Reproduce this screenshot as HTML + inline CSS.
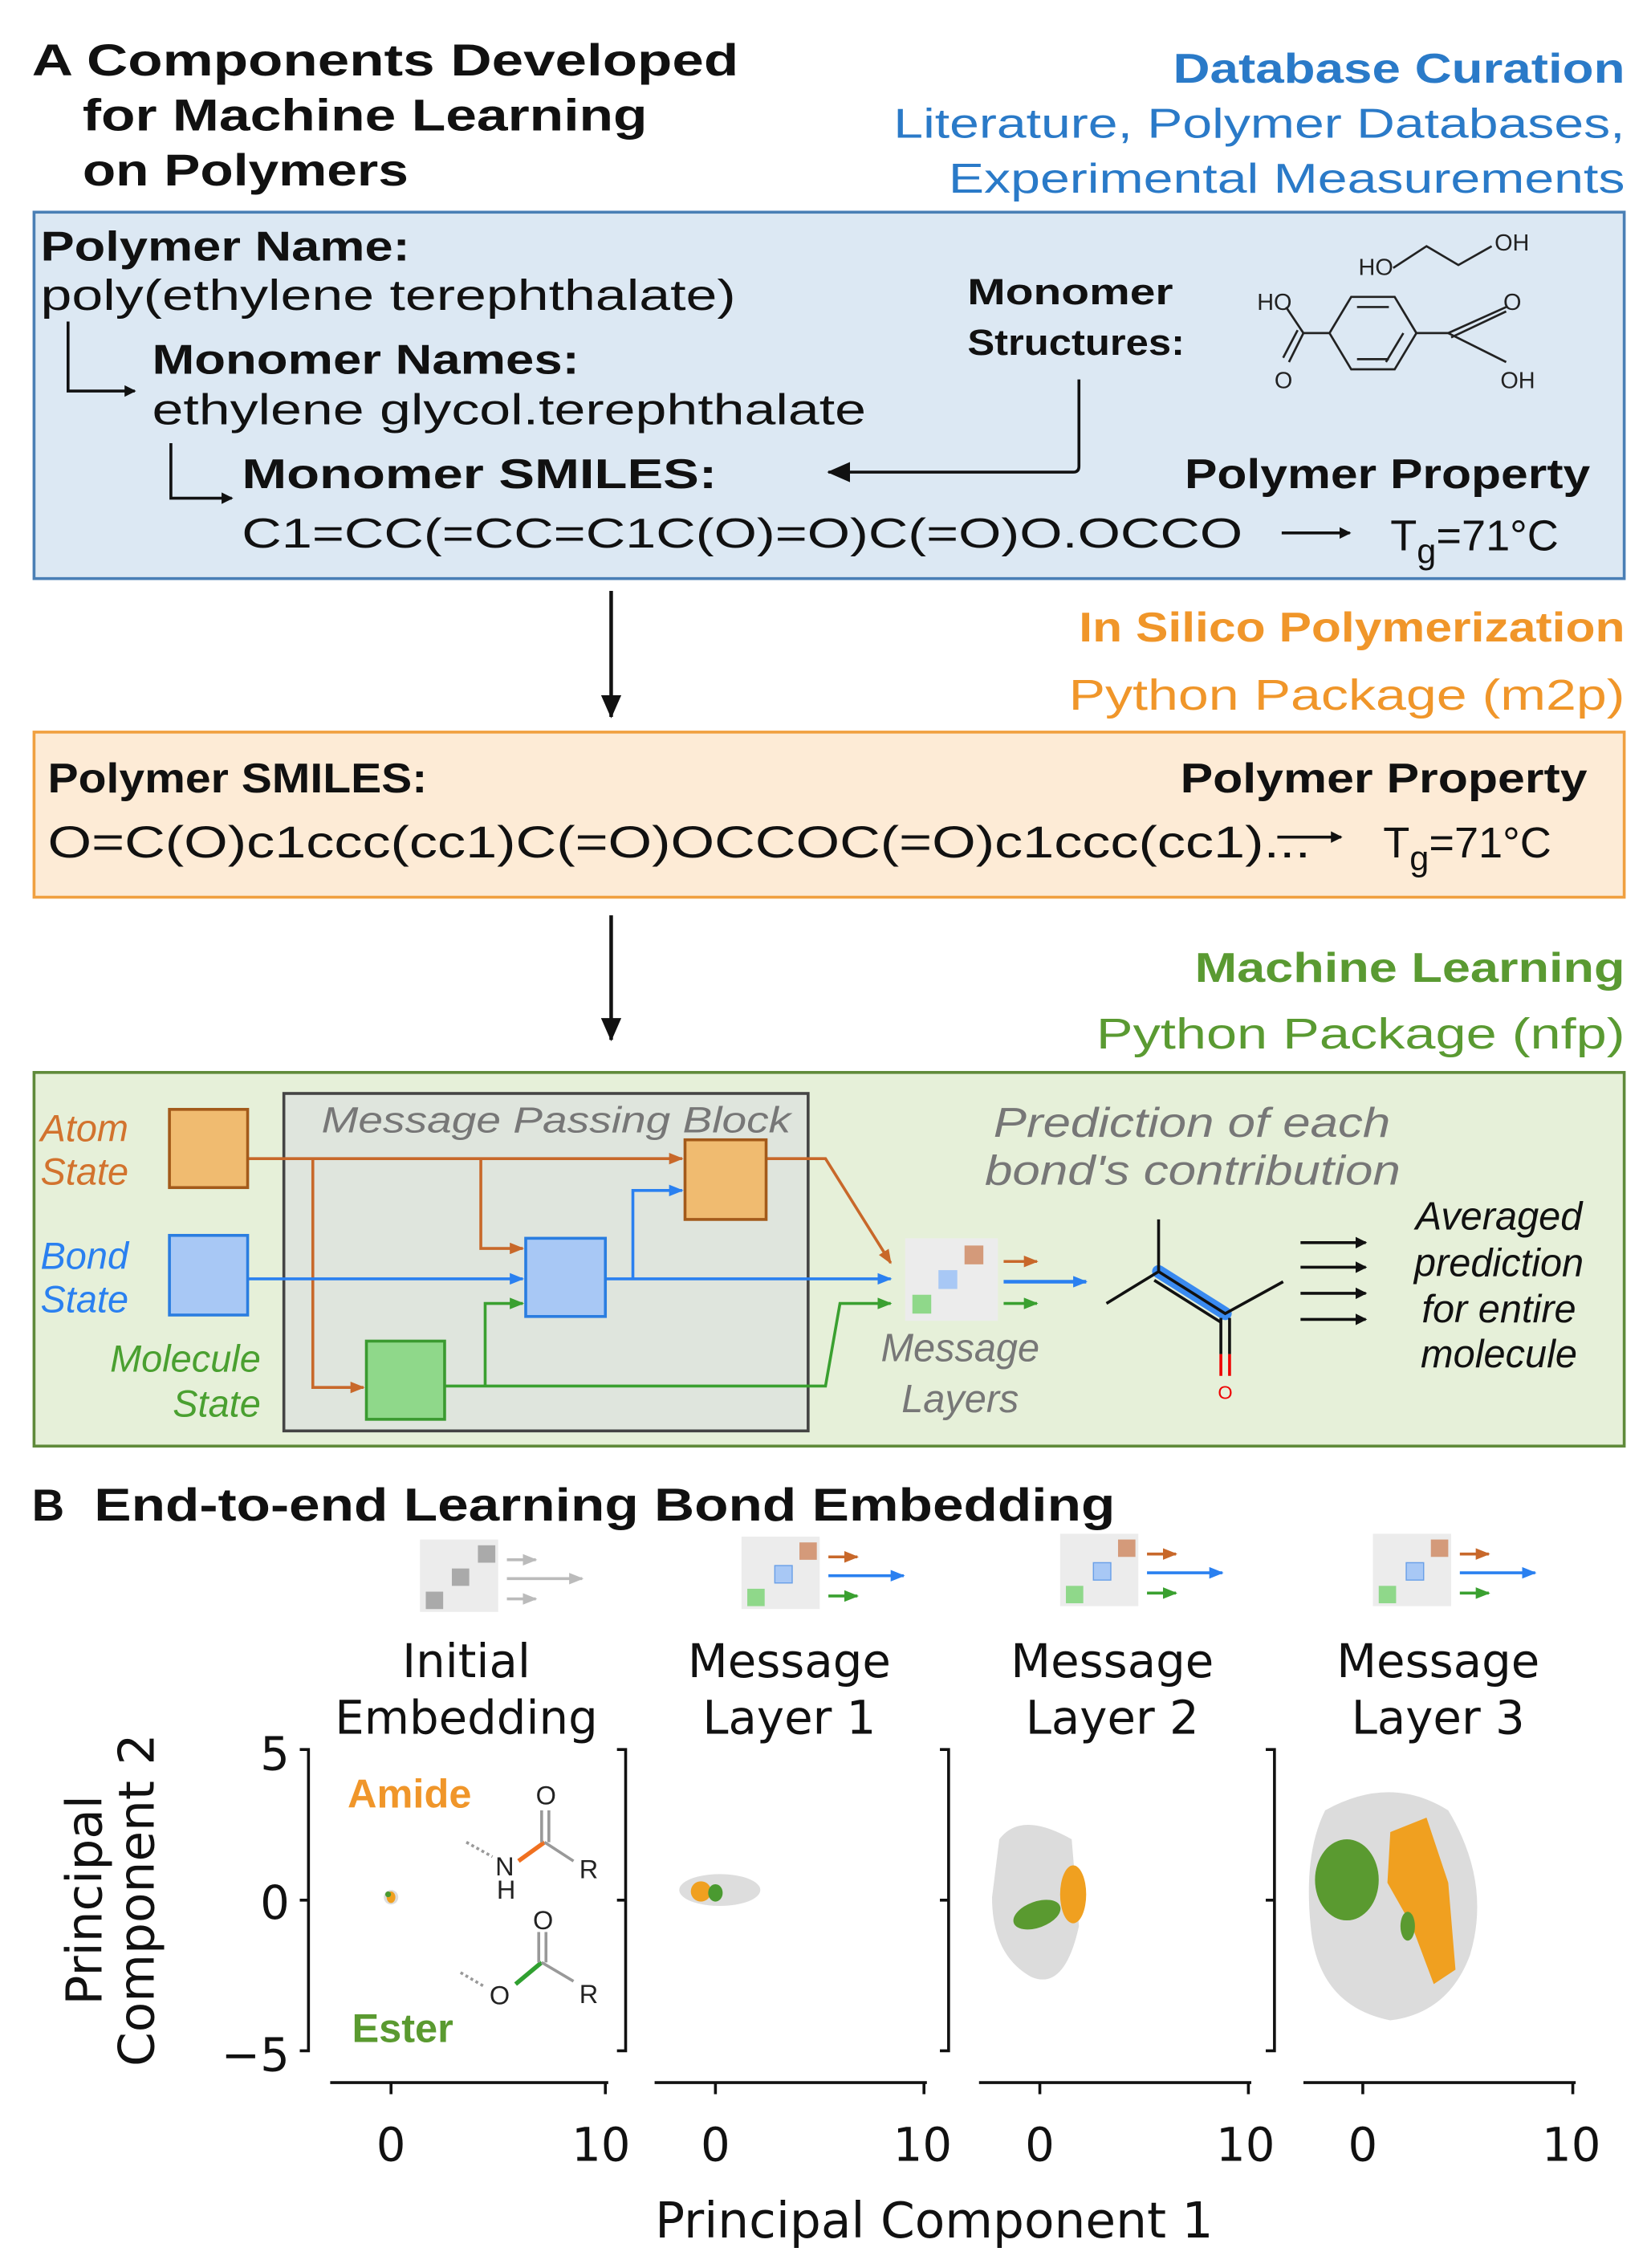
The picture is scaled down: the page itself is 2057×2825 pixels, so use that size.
<!DOCTYPE html>
<html><head><meta charset="utf-8"><style>
html,body{margin:0;padding:0;background:#fff;}
svg{display:block;}
text{font-family:"Liberation Sans",sans-serif;}
.b{font-weight:bold;}
.dv{font-family:"DejaVu Sans","Liberation Sans",sans-serif;}
</style></head><body>
<svg width="2057" height="2825" viewBox="0 0 1140 1566" preserveAspectRatio="none" xmlns="http://www.w3.org/2000/svg">
<defs>
<marker id="ak" markerWidth="8" markerHeight="8" refX="7" refY="4" orient="auto" markerUnits="userSpaceOnUse"><path d="M0,0 L8,4 L0,8 Z" fill="#111"/></marker>
<marker id="akL" markerWidth="16" markerHeight="14" refX="15" refY="7" orient="auto" markerUnits="userSpaceOnUse"><path d="M0,0 L16,7 L0,14 Z" fill="#111"/></marker>
<marker id="ao" markerWidth="10" markerHeight="8" refX="9" refY="4" orient="auto" markerUnits="userSpaceOnUse"><path d="M0,0 L10,4 L0,8 Z" fill="#c8682a"/></marker>
<marker id="ab" markerWidth="10" markerHeight="8" refX="9" refY="4" orient="auto" markerUnits="userSpaceOnUse"><path d="M0,0 L10,4 L0,8 Z" fill="#2a80f0"/></marker>
<marker id="ag" markerWidth="10" markerHeight="8" refX="9" refY="4" orient="auto" markerUnits="userSpaceOnUse"><path d="M0,0 L10,4 L0,8 Z" fill="#3aa030"/></marker>
<marker id="ay" markerWidth="10" markerHeight="8" refX="9" refY="4" orient="auto" markerUnits="userSpaceOnUse"><path d="M0,0 L10,4 L0,8 Z" fill="#bbb"/></marker>
<g id="icon">
<rect x="0" y="0" width="54" height="50" fill="#ececec"/>
<rect x="40" y="4" width="12" height="12" fill="#d49a7a"/>
<rect x="23" y="20" width="12" height="12" fill="#a8c8f5" stroke="#6aa0e8" stroke-width="0.8"/>
<rect x="4" y="36" width="12" height="12" fill="#8fd88a"/>
<line x1="60" y1="14" x2="80" y2="14" stroke="#c8682a" stroke-width="2" marker-end="url(#ao)"/>
<line x1="60" y1="27" x2="112" y2="27" stroke="#2a80f0" stroke-width="2" marker-end="url(#ab)"/>
<line x1="60" y1="41" x2="80" y2="41" stroke="#3aa030" stroke-width="2" marker-end="url(#ag)"/>
</g>
</defs>

<!-- Header -->
<text x="22" y="52" class="b" font-size="31" fill="#111" textLength="488" lengthAdjust="spacingAndGlyphs">A Components Developed</text>
<text x="57" y="90" class="b" font-size="31" fill="#111" textLength="390" lengthAdjust="spacingAndGlyphs">for Machine Learning</text>
<text x="57" y="128" class="b" font-size="31" fill="#111" textLength="225" lengthAdjust="spacingAndGlyphs">on Polymers</text>
<text x="810" y="57" class="b" font-size="29" fill="#2a7ac8" textLength="312" lengthAdjust="spacingAndGlyphs">Database Curation</text>
<text x="617" y="95" font-size="29" fill="#2a7ac8" textLength="505" lengthAdjust="spacingAndGlyphs">Literature, Polymer Databases,</text>
<text x="655" y="133" font-size="29" fill="#2a7ac8" textLength="467" lengthAdjust="spacingAndGlyphs">Experimental Measurements</text>

<!-- Blue box -->
<rect x="23.5" y="146.5" width="1098" height="253" fill="#dce8f3" stroke="#4a7fb5" stroke-width="2"/>
<text x="28" y="180" class="b" font-size="29" fill="#111" textLength="255" lengthAdjust="spacingAndGlyphs">Polymer Name:</text>
<text x="28" y="214" font-size="30" fill="#111" textLength="480" lengthAdjust="spacingAndGlyphs">poly(ethylene terephthalate)</text>
<path d="M47,222 V270 H93" fill="none" stroke="#111" stroke-width="2" marker-end="url(#ak)"/>
<text x="105" y="258" class="b" font-size="29" fill="#111" textLength="295" lengthAdjust="spacingAndGlyphs">Monomer Names:</text>
<text x="105" y="293" font-size="30" fill="#111" textLength="493" lengthAdjust="spacingAndGlyphs">ethylene glycol.terephthalate</text>
<path d="M118,306 V344 H160" fill="none" stroke="#111" stroke-width="2" marker-end="url(#ak)"/>
<text x="167" y="337" class="b" font-size="29" fill="#111" textLength="328" lengthAdjust="spacingAndGlyphs">Monomer SMILES:</text>
<text x="167" y="378" font-size="29" fill="#111" textLength="691" lengthAdjust="spacingAndGlyphs">C1=CC(=CC=C1C(O)=O)C(=O)O.OCCO</text>
<text x="668" y="210" class="b" font-size="25" fill="#111" textLength="142" lengthAdjust="spacingAndGlyphs">Monomer</text>
<text x="668" y="245" class="b" font-size="25" fill="#111" textLength="150" lengthAdjust="spacingAndGlyphs">Structures:</text>
<path d="M745,262 V322 Q745,326 741,326 H572" fill="none" stroke="#111" stroke-width="2" marker-end="url(#akL)"/>
<!-- molecules -->
<g stroke="#222" stroke-width="1.5" fill="none">
<path d="M962,185 L985,170 L1007,183 L1030,170"/>
<polygon points="918,230 933,205 963,205 978,230 963,255 933,255"/>
<line x1="937" y1="212" x2="959" y2="212"/><line x1="937" y1="248" x2="959" y2="248"/>
<line x1="969" y1="230" x2="957" y2="250"/>
<path d="M918,230 L900,230 L888,212"/><path d="M900,230 L890,250"/><path d="M896,228 L886,247"/>
<path d="M978,230 L1000,230 L1040,212"/><path d="M1000,230 L1040,250"/><path d="M1002,233 L1040,215"/>
</g>
<text x="938" y="190" font-size="16" fill="#222">HO</text>
<text x="1032" y="173" font-size="16" fill="#222">OH</text>
<text x="868" y="214" font-size="16" fill="#222">HO</text>
<text x="880" y="268" font-size="16" fill="#222">O</text>
<text x="1038" y="214" font-size="16" fill="#222">O</text>
<text x="1036" y="268" font-size="16" fill="#222">OH</text>
<text x="818" y="337" class="b" font-size="29" fill="#111" textLength="280" lengthAdjust="spacingAndGlyphs">Polymer Property</text>
<line x1="885" y1="368" x2="932" y2="368" stroke="#111" stroke-width="2" marker-end="url(#ak)"/>
<text x="960" y="380" font-size="30" fill="#111">T<tspan font-size="24" dy="9">g</tspan><tspan dy="-9">=71°C</tspan></text>

<!-- arrow 1 -->
<line x1="422" y1="408" x2="422" y2="495" stroke="#111" stroke-width="2.5" marker-end="url(#akL)"/>
<text x="745" y="443" class="b" font-size="29" fill="#f0962a" textLength="377" lengthAdjust="spacingAndGlyphs">In Silico Polymerization</text>
<text x="738" y="490" font-size="30" fill="#f0962a" textLength="384" lengthAdjust="spacingAndGlyphs">Python Package (m2p)</text>

<!-- Orange box -->
<rect x="23.5" y="505.5" width="1098" height="114" fill="#fdebd6" stroke="#f0a040" stroke-width="2"/>
<text x="33" y="547" class="b" font-size="29" fill="#111" textLength="262" lengthAdjust="spacingAndGlyphs">Polymer SMILES:</text>
<text x="815" y="547" class="b" font-size="29" fill="#111" textLength="281" lengthAdjust="spacingAndGlyphs">Polymer Property</text>
<text x="33" y="592" font-size="31" fill="#111" textLength="872" lengthAdjust="spacingAndGlyphs">O=C(O)c1ccc(cc1)C(=O)OCCOC(=O)c1ccc(cc1)...</text>
<line x1="882" y1="578" x2="926" y2="578" stroke="#111" stroke-width="2" marker-end="url(#ak)"/>
<text x="955" y="592" font-size="30" fill="#111">T<tspan font-size="24" dy="9">g</tspan><tspan dy="-9">=71°C</tspan></text>

<!-- arrow 2 -->
<line x1="422" y1="632" x2="422" y2="718" stroke="#111" stroke-width="2.5" marker-end="url(#akL)"/>
<text x="825" y="678" class="b" font-size="29" fill="#5a9a32" textLength="297" lengthAdjust="spacingAndGlyphs">Machine Learning</text>
<text x="757" y="724" font-size="30" fill="#5a9a32" textLength="365" lengthAdjust="spacingAndGlyphs">Python Package (nfp)</text>

<!-- Green box -->
<rect x="23.5" y="740.5" width="1098" height="258" fill="#e6f0d9" stroke="#5f8a3a" stroke-width="2"/>
<rect x="196" y="755" width="362" height="233" fill="#dfe5dd" stroke="#444" stroke-width="2"/>
<text x="222" y="782" font-size="25" font-style="italic" fill="#777" textLength="324" lengthAdjust="spacingAndGlyphs">Message Passing Block</text>
<text x="28" y="788" font-size="26" font-style="italic" fill="#d2732e">Atom</text>
<text x="28" y="818" font-size="26" font-style="italic" fill="#d2732e">State</text>
<text x="28" y="876" font-size="26" font-style="italic" fill="#2a80f0">Bond</text>
<text x="28" y="906" font-size="26" font-style="italic" fill="#2a80f0">State</text>
<text x="180" y="947" font-size="26" font-style="italic" fill="#4aa030" text-anchor="end">Molecule</text>
<text x="180" y="978" font-size="26" font-style="italic" fill="#4aa030" text-anchor="end">State</text>
<!-- lines -->
<g fill="none" stroke-width="2">
<path d="M171,800 H471" stroke="#c8682a" marker-end="url(#ao)"/>
<path d="M216,800 V958 H251" stroke="#c8682a" marker-end="url(#ao)"/>
<path d="M332,800 V862 H361" stroke="#c8682a" marker-end="url(#ao)"/>
<path d="M529,800 H570 L615,872" stroke="#c8682a" marker-end="url(#ao)"/>
<path d="M171,883 H361" stroke="#2a80f0" marker-end="url(#ab)"/>
<path d="M418,883 H615" stroke="#2a80f0" marker-end="url(#ab)"/>
<path d="M437,883 V822 H471" stroke="#2a80f0" marker-end="url(#ab)"/>
<path d="M307,957 H570 L580,900 H615" stroke="#3aa030" marker-end="url(#ag)"/>
<path d="M335,957 V900 H361" stroke="#3aa030" marker-end="url(#ag)"/>
</g>
<rect x="117" y="766" width="54" height="54" fill="#f0bb70" stroke="#a35a1a" stroke-width="2"/>
<rect x="117" y="853" width="54" height="55" fill="#a8c8f5" stroke="#2a7de0" stroke-width="2"/>
<rect x="253" y="926" width="54" height="54" fill="#8fd88a" stroke="#3a9a30" stroke-width="2"/>
<rect x="363" y="855" width="55" height="54" fill="#a8c8f5" stroke="#2a7de0" stroke-width="2"/>
<rect x="473" y="787" width="56" height="55" fill="#f0bb70" stroke="#a35a1a" stroke-width="2"/>
<!-- message layer icon in box -->
<rect x="625" y="855" width="64" height="57" fill="#ececec"/>
<rect x="666" y="860" width="13" height="13" fill="#d49a7a"/>
<rect x="648" y="877" width="13" height="13" fill="#a8c8f5"/>
<rect x="630" y="894" width="13" height="13" fill="#8fd88a"/>
<line x1="693" y1="871" x2="716" y2="871" stroke="#c8682a" stroke-width="2" marker-end="url(#ao)"/>
<line x1="693" y1="885" x2="750" y2="885" stroke="#2a80f0" stroke-width="2.5" marker-end="url(#ab)"/>
<line x1="693" y1="900" x2="716" y2="900" stroke="#3aa030" stroke-width="2" marker-end="url(#ag)"/>
<text x="663" y="940" font-size="27" font-style="italic" fill="#777" text-anchor="middle">Message</text>
<text x="663" y="975" font-size="27" font-style="italic" fill="#777" text-anchor="middle">Layers</text>
<text x="686" y="785" font-size="29" font-style="italic" fill="#777" textLength="274" lengthAdjust="spacingAndGlyphs">Prediction of each</text>
<text x="680" y="818" font-size="29" font-style="italic" fill="#777" textLength="287" lengthAdjust="spacingAndGlyphs">bond's contribution</text>
<!-- molecule -->
<line x1="800" y1="878" x2="846" y2="907" stroke="#3a8af0" stroke-width="9" stroke-linecap="round"/>
<g stroke="#111" stroke-width="2" fill="none">
<path d="M764,900 L800,878 L800,842"/>
<path d="M800,878 L846,907 L886,885"/>
<path d="M797,884 L843,913"/>
</g>
<line x1="843" y1="910" x2="843" y2="935" stroke="#111" stroke-width="2"/>
<line x1="849" y1="910" x2="849" y2="935" stroke="#111" stroke-width="2"/>
<line x1="843" y1="935" x2="843" y2="950" stroke="#e00" stroke-width="2"/>
<line x1="849" y1="935" x2="849" y2="950" stroke="#e00" stroke-width="2"/>
<text x="846" y="966" font-size="13" fill="#e00" text-anchor="middle">O</text>
<g stroke="#111" stroke-width="2">
<line x1="898" y1="858" x2="943" y2="858" marker-end="url(#ak)"/>
<line x1="898" y1="875" x2="943" y2="875" marker-end="url(#ak)"/>
<line x1="898" y1="893" x2="943" y2="893" marker-end="url(#ak)"/>
<line x1="898" y1="911" x2="943" y2="911" marker-end="url(#ak)"/>
</g>
<text x="1035" y="849" font-size="27" font-style="italic" fill="#111" text-anchor="middle">Averaged</text>
<text x="1035" y="881" font-size="27" font-style="italic" fill="#111" text-anchor="middle">prediction</text>
<text x="1035" y="913" font-size="27" font-style="italic" fill="#111" text-anchor="middle">for entire</text>
<text x="1035" y="944" font-size="27" font-style="italic" fill="#111" text-anchor="middle">molecule</text>

<!-- Section B -->
<text x="22" y="1050" class="b" font-size="31" fill="#111">B</text>
<text x="65" y="1050" class="b" font-size="32" fill="#111" textLength="705" lengthAdjust="spacingAndGlyphs">End-to-end Learning Bond Embedding</text>
<!-- icons -->
<g transform="translate(290,1063)">
<rect x="0" y="0" width="54" height="50" fill="#ececec"/>
<rect x="40" y="4" width="12" height="12" fill="#aaa"/>
<rect x="22" y="20" width="12" height="12" fill="#aaa"/>
<rect x="4" y="36" width="12" height="12" fill="#aaa"/>
<line x1="60" y1="14" x2="80" y2="14" stroke="#bbb" stroke-width="2" marker-end="url(#ay)"/>
<line x1="60" y1="27" x2="112" y2="27" stroke="#bbb" stroke-width="2" marker-end="url(#ay)"/>
<line x1="60" y1="41" x2="80" y2="41" stroke="#bbb" stroke-width="2" marker-end="url(#ay)"/>
</g>
<use href="#icon" x="512" y="1061"/>
<use href="#icon" x="732" y="1059"/>
<use href="#icon" x="948" y="1059"/>
<!-- titles -->
<g class="dv" font-size="32" fill="#111" text-anchor="middle">
<text x="322" y="1158" class="dv">Initial</text><text x="322" y="1197" class="dv">Embedding</text>
<text x="545" y="1158" class="dv">Message</text><text x="545" y="1197" class="dv">Layer 1</text>
<text x="768" y="1158" class="dv">Message</text><text x="768" y="1197" class="dv">Layer 2</text>
<text x="993" y="1158" class="dv">Message</text><text x="993" y="1197" class="dv">Layer 3</text>
</g>
<!-- scatter -->
<ellipse cx="270" cy="1310" rx="5" ry="5" fill="#ddd"/>
<ellipse cx="270" cy="1310" rx="3" ry="4" fill="#f0a020"/>
<ellipse cx="268" cy="1308" rx="2" ry="2" fill="#4a9a30"/>
<ellipse cx="497" cy="1305" rx="28" ry="11" fill="#ddd"/>
<ellipse cx="484" cy="1306" rx="7" ry="7" fill="#f0a020"/>
<ellipse cx="494" cy="1307" rx="5" ry="6" fill="#4a9a30"/>
<path d="M690,1270 Q705,1250 740,1270 L745,1330 Q735,1375 712,1365 Q685,1350 685,1310 Z" fill="#dcdcdc"/>
<ellipse cx="716" cy="1322" rx="17" ry="9" fill="#5a9a30" transform="rotate(-20 716 1322)"/>
<ellipse cx="741" cy="1308" rx="9" ry="20" fill="#f0a020"/>
<path d="M915,1250 Q960,1225 1000,1250 Q1030,1300 1015,1350 Q1000,1390 960,1395 Q910,1385 905,1330 Q900,1280 915,1250 Z" fill="#dcdcdc"/>
<ellipse cx="930" cy="1298" rx="22" ry="28" fill="#5a9a30"/>
<path d="M960,1265 L985,1255 L1000,1300 L1005,1360 L990,1370 L975,1330 L958,1300 Z" fill="#f0a020"/>
<ellipse cx="972" cy="1330" rx="5" ry="10" fill="#5a9a30"/>
<!-- axes -->
<g stroke="#111" stroke-width="2" fill="none">
<path d="M207,1208 H213 V1416 H207 M207,1312 H213"/>
<path d="M426,1208 H432 V1416 H426 M426,1312 H432"/>
<path d="M649,1208 H655 V1416 H649 M649,1312 H655"/>
<path d="M874,1208 H880 V1416 H874 M874,1312 H880"/>
<path d="M228,1438 H420 M270,1438 V1446 M418,1438 V1446"/>
<path d="M452,1438 H640 M494,1438 V1446 M638,1438 V1446"/>
<path d="M676,1438 H864 M718,1438 V1446 M862,1438 V1446"/>
<path d="M900,1438 H1088 M941,1438 V1446 M1086,1438 V1446"/>
</g>
<g class="dv" font-size="32" fill="#111" text-anchor="end">
<text x="200" y="1222" class="dv">5</text>
<text x="200" y="1325" class="dv">0</text>
<text x="200" y="1430" class="dv">−5</text>
</g>
<g class="dv" font-size="32" fill="#111" text-anchor="middle">
<text x="270" y="1492" class="dv">0</text><text x="415" y="1492" class="dv">10</text>
<text x="494" y="1492" class="dv">0</text><text x="637" y="1492" class="dv">10</text>
<text x="718" y="1492" class="dv">0</text><text x="860" y="1492" class="dv">10</text>
<text x="941" y="1492" class="dv">0</text><text x="1085" y="1492" class="dv">10</text>
<text x="645" y="1545" class="dv" font-size="34">Principal Component 1</text>
<text x="0" y="0" class="dv" font-size="34" transform="translate(70,1312) rotate(-90)">Principal</text>
<text x="0" y="0" class="dv" font-size="34" transform="translate(106,1312) rotate(-90)">Component 2</text>
</g>
<!-- Amide/Ester -->
<text x="240" y="1248" class="b" font-size="28" fill="#f0962a">Amide</text>
<text x="243" y="1410" class="b" font-size="28" fill="#5a9a30">Ester</text>
<g stroke-width="2" fill="none">
<line x1="322" y1="1272" x2="340" y2="1282" stroke="#999" stroke-dasharray="2,2"/>
<line x1="358" y1="1285" x2="376" y2="1272" stroke="#f07020" stroke-width="3"/>
<line x1="376" y1="1272" x2="396" y2="1285" stroke="#999"/>
<line x1="374" y1="1250" x2="374" y2="1272" stroke="#999"/><line x1="379" y1="1250" x2="379" y2="1272" stroke="#999"/>
<line x1="318" y1="1362" x2="335" y2="1372" stroke="#999" stroke-dasharray="2,2"/>
<line x1="356" y1="1370" x2="374" y2="1355" stroke="#30a030" stroke-width="3"/>
<line x1="374" y1="1355" x2="396" y2="1368" stroke="#999"/>
<line x1="372" y1="1334" x2="372" y2="1355" stroke="#999"/><line x1="377" y1="1334" x2="377" y2="1355" stroke="#999"/>
</g>
<g font-size="18" fill="#222">
<text x="370" y="1246">O</text><text x="342" y="1295">N</text><text x="343" y="1311">H</text><text x="400" y="1297">R</text>
<text x="368" y="1332">O</text><text x="338" y="1384">O</text><text x="400" y="1383">R</text>
</g>
</svg>
</body></html>
